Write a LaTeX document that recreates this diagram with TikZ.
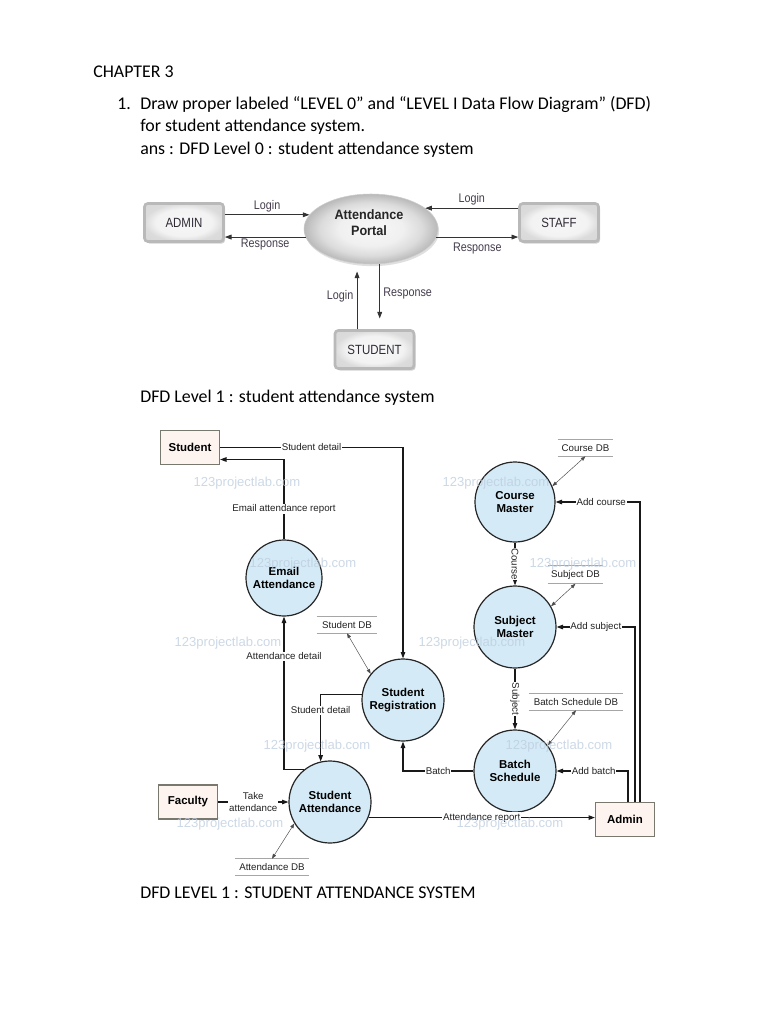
\documentclass[tikz,border=0pt]{standalone}
\usepackage{fontspec}
\setmainfont{Carlito}
\newfontfamily\arialf{Liberation Sans}
\newfontfamily\arialn[FakeStretch=0.86]{Liberation Sans}
\newfontfamily\arialb[FakeStretch=0.93]{Liberation Sans}
\usetikzlibrary{arrows.meta,shapes.geometric,shadows,calc}
\definecolor{procfill}{RGB}{212,235,247}
\definecolor{entfill}{RGB}{253,244,240}
\definecolor{entdraw}{RGB}{120,120,110}
\definecolor{wmark}{RGB}{188,204,222}
\definecolor{lbl}{RGB}{34,34,34}
\definecolor{lzero}{RGB}{70,62,78}
\pgfdeclareradialshading{portalshade}{\pgfpoint{0bp}{0bp}}{color(0bp)=(gray!6); color(12bp)=(gray!12); color(19bp)=(gray!28); color(25bp)=(gray!55); color(50bp)=(gray!55)}
\pgfdeclareradialshading{boxshade}{\pgfpoint{0bp}{0bp}}{color(0bp)=(gray!6); color(18bp)=(gray!10); color(25bp)=(gray!28); color(50bp)=(gray!35)}
\tikzset{
  body/.style={font=\fontsize{13.4}{16}\selectfont, anchor=base west, inner sep=0pt},
  box0/.style={rectangle, rounded corners=2.5pt, shading=boxshade, draw=gray!55, line width=2pt,
    minimum width=79*0.75pt, minimum height=38*0.75pt, font=\arialn\fontsize{10}{11}\selectfont,
    text=lzero!70!black, drop shadow={shadow xshift=1.2pt, shadow yshift=-1.5pt, opacity=0.35}},
  lab0/.style={font=\arialn\fontsize{9.4}{10}\selectfont, text=lzero, inner sep=1.5pt},
  arr0/.style={-{Triangle[length=5pt,width=3.6pt]}, line width=0.6pt, draw=black!80},
  proc/.style={circle, draw=black!85, line width=0.9pt, fill=procfill,
    font=\arialf\bfseries\fontsize{8.6}{10}\selectfont, align=center, inner sep=0pt},
  ent/.style={rectangle, draw=entdraw, line width=0.9pt, fill=entfill,
    font=\arialf\bfseries\fontsize{8.6}{10}\selectfont, minimum width=59*0.75pt, minimum height=34*0.75pt},
  flow/.style={line width=0.8pt, draw=black!90},
  flowar/.style={flow, -{Triangle[length=4.8pt,width=3.4pt]}},
  lab/.style={font=\arialf\fontsize{7.3}{8.3}\selectfont, text=lbl, fill=white, inner sep=0.6pt},
  store/.style={font=\arialf\fontsize{7.3}{8.5}\selectfont, text=lbl, minimum height=16*0.75pt, inner xsep=0pt},
  storeline/.style={draw=gray!70, line width=0.7pt},
  dbar/.style={{Triangle[length=3.6pt,width=2.6pt]}-{Triangle[length=3.6pt,width=2.6pt]}, draw=gray!60!black, line width=0.35pt},
  wm/.style={font=\arialf\fontsize{9.8}{11}\selectfont, text=wmark, opacity=0.75}
}
\begin{document}
\begin{tikzpicture}[x=0.75pt,y=-0.75pt]
\useasboundingbox (0,0) rectangle (768,1024);
\fill[white] (0,0) rectangle (768,1024);

% ---------- body text ----------
\node[body] (ch) at (93,77.5) {CHAPTER 3};
\node[body] (q1n) at (117,109) {1.};
\node[body] (q1a) at (140,109) {Draw proper labeled “LEVEL 0” and “LEVEL I Data Flow Diagram” (DFD)};
\node[body] (q1b) at (140,131.5) {for student attendance system.};
\node[body] (q1c) at (140,154) {ans : DFD Level 0 : student attendance system};
\node[body] (l1t) at (140,402.5) {DFD Level 1 : student attendance system};
\node[body] (l1b) at (140,898) {DFD LEVEL 1 : STUDENT ATTENDANCE SYSTEM};

% ---------- Level 0 ----------
\node[ellipse, minimum width=134*0.75pt, minimum height=70*0.75pt, shading=portalshade,
  draw=gray!40, line width=0.4pt, drop shadow={shadow xshift=0.8pt, shadow yshift=-1.6pt, opacity=0.25}] (portal) at (371,229) {};
\node[font=\arialb\bfseries\fontsize{10.2}{12}\selectfont, align=center, text=black!85] (portaltxt) at (369,223) {Attendance\\Portal};
\node[box0] (admin0) at (184,222.5) {ADMIN};
\node[box0] (staff0) at (559,222.5) {STAFF};
\node[box0] (stud0) at (374.5,349.5) {STUDENT};

\draw[arr0] (admin0.east |- portal.167) -- node[lab0, midway, above=0.5pt] {Login} (portal.167);
\draw[arr0] (portal.187) -- node[lab0, midway, below=-0.5pt] {Response} (admin0.east |- portal.187);
\draw[arr0] (staff0.west |- portal.21) -- node[lab0, midway, above=0.5pt] {Login} (portal.21);
\draw[arr0] (portal.-7) -- node[lab0, midway, below=2.5pt] {Response} (staff0.west |- portal.-7);
\draw[arr0, shorten >=6pt] (stud0.north -| portal.248) -- node[lab0, midway, left=1pt] {Login} (portal.248);
\draw[arr0, shorten >=8pt] (portal.-76) -- node[lab0, midway, right=1pt, yshift=2pt] {Response} (portal.-76 |- stud0.north);

% ---------- Level 1 nodes ----------
\node[ent] (stud) at (190,447.5) {Student};
\node[ent] (fac) at (188,802) {Faculty};
\node[ent] (admin) at (625,819.5) {Admin};
\node[proc, minimum size=76*0.75pt] (email) at (284,578) {Email\\Attendance};
\node[proc, minimum size=80*0.75pt] (course) at (515,502) {Course\\Master};
\node[proc, minimum size=82*0.75pt] (subj) at (515,627) {Subject\\Master};
\node[proc, minimum size=82*0.75pt] (batch) at (515,771) {Batch\\Schedule};
\node[proc, minimum size=82*0.75pt] (reg) at (403,700) {Student\\Registration};
\node[proc, minimum size=82*0.75pt] (satt) at (330,802) {Student\\Attendance};

% data stores
\node[store, minimum width=55*0.75pt] (cdb) at (585.5,448) {Course DB};
\node[store, minimum width=55*0.75pt] (sdb) at (575.5,574.5) {Subject DB};
\node[store, minimum width=94*0.75pt] (bdb) at (576,702) {Batch Schedule DB};
\node[store, minimum width=60*0.75pt] (stdb) at (347,625) {Student DB};
\node[store, minimum width=73*0.75pt] (adb) at (272,867) {Attendance DB};
\foreach \s in {cdb,sdb,bdb,stdb,adb}{
  \draw[storeline] (\s.north west) -- (\s.north east) (\s.south west) -- (\s.south east);
}

% ---------- Level 1 flows ----------
\coordinate (studin) at ($(stud.east)+(0,12)$);
\draw[flowar] (stud.east) -| node[lab, pos=0.25] {Student detail} (reg.north);
\draw[flowar] (email.north) |- node[lab, pos=0.19] {Email attendance report} (studin);
\draw[flowar] (satt.129) -| node[lab, pos=0.87] {Attendance detail} (email.south);
\draw[flowar] (reg.172) -| node[lab, pos=0.62] {Student detail} (satt.103);
\draw[flowar] (batch.west) -| node[lab, pos=0.25] {Batch} (reg.south);
\draw[flowar] (fac.east) -- node[lab, align=center] {Take\\attendance} (satt.west);
\draw[flowar] (satt.-22) -- node[lab] {Attendance report} (satt.-22 -| admin.west);

\coordinate (ab) at ($(admin.north)+(3,0)$);
\coordinate (as) at ($(admin.north)+(10,0)$);
\coordinate (ac) at ($(admin.north)+(15,0)$);
\draw[flowar] (ac) |- node[lab, pos=0.73] {Add course} (course.east);
\draw[flowar] (as) |- node[lab, pos=0.75] {Add subject} (subj.east);
\draw[flowar] (ab) |- node[lab, pos=0.74] {Add batch} (batch.east);

\draw[flowar] (course.south) -- node[lab, rotate=-90] {Course} (subj.north);
\draw[flowar] (subj.south) -- node[lab, rotate=-90] {Subject} (batch.north);

\draw[dbar] (cdb.south) -- (course.23);
\draw[dbar] (sdb.south) -- (subj.30);
\draw[dbar] (bdb.south) -- (batch.38);
\draw[dbar] (stdb.south) -- (reg.141);
\draw[dbar] (adb.north) -- (satt.211);

% ---------- watermarks ----------
\foreach \wx/\wy [count=\i] in {247/483, 303/564, 496/483, 583/564, 228/643, 472/643, 317/746, 559/746, 230/824, 510/824}{
  \node[wm] (wm\i) at (\wx,\wy) {123projectlab.com};
}
\end{tikzpicture}
\end{document}
